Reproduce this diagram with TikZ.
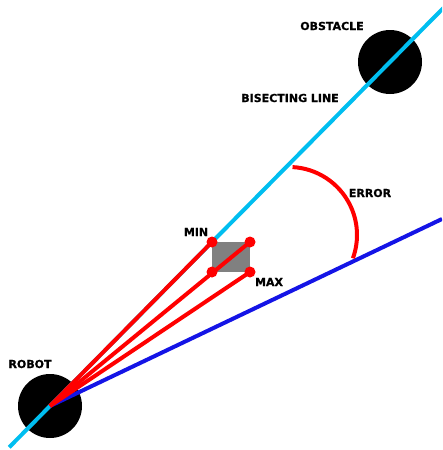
\documentclass[tikz,border=0pt]{standalone}
\usepackage{fontspec}
\newfontfamily\labelfont[BoldFeatures={FakeBold=0.8}]{DejaVu Sans}
\usepackage{tikz}
\usetikzlibrary{
  calc,
  positioning
}
\definecolor{bisectCyan}{HTML}{00BEF0}
\definecolor{errBlue}{HTML}{1414E6}
\definecolor{rayRed}{HTML}{FF0000}
\definecolor{boxGray}{HTML}{808080}
\tikzset{
  body/.style={
    circle,fill=black,
    minimum size=64pt,inner sep=0pt
  },
  tag/.style={
    font=\labelfont\bfseries\fontsize{11}{11}\selectfont,
    inner sep=0pt
  },
  cornerdot/.style={
    circle,fill=rayRed,
    minimum size=11pt,inner sep=0pt
  },
  bisect/.style={line width=4pt,color=bisectCyan},
  bound/.style={line width=4pt,color=errBlue},
  ray/.style={line width=4pt,color=rayRed},
  errarc/.style={line width=4pt,color=rayRed},
}

\begin{document}
\begin{tikzpicture}[x=1pt,y=-1pt]

\useasboundingbox (0,0) rectangle (442,450);
\clip (0,0) rectangle (442,450);

%% ── Bodies ───────────────────────────────────────────────
\node[body] (robot)    at (50,406) {};
\node[body] (obstacle) at (390,62) {};

%% ── Reference points ─────────────────────────────────────
\coordinate (bisectfoot) at ($(robot)!-0.12!(obstacle)$);
\coordinate (bisecttip)  at ($(robot)!1.35!(obstacle)$);
\coordinate (boundtip)   at (442,219);
\coordinate (minpt)  at (212,242);
\coordinate (midpt)  at (250,242);
\coordinate (lowpt)  at (212,272);
\coordinate (maxpt)  at (250,272);
\coordinate (errc)   at (289,235);

%% ── Lines ────────────────────────────────────────────────
\draw[bisect] (bisectfoot) -- (bisecttip);
\draw[bound] (robot.center) -- (boundtip);

\fill[boxGray] (minpt) rectangle (maxpt);

\draw[ray] (robot.center) -- (minpt);
\draw[ray] (robot.center) -- (midpt);
\draw[ray] (robot.center) -- (maxpt);

\draw[errarc] ($(errc)+(-87:68)$) arc[start angle=-87,end angle=20,radius=68];

%% ── Corners ──────────────────────────────────────────────
\node[cornerdot] (dmin) at (minpt) {};
\node[cornerdot] (dmid) at (midpt) {};
\node[cornerdot] (dlow) at (lowpt) {};
\node[cornerdot] (dmax) at (maxpt) {};

%% ── Labels ───────────────────────────────────────────────
\node[tag] (lobst)  at (332,26)  {OBSTACLE};
\node[tag] (lbisec) at (290,98)  {BISECTING LINE};
\node[tag] (lerr)   at (370,193) {ERROR};
\node[tag] (lmin)   at (196,232) {MIN};
\node[tag] (lmax)   at (269,282) {MAX};
\node[tag] (lrobot) at (30,364)  {ROBOT};

\end{tikzpicture}
\end{document}
